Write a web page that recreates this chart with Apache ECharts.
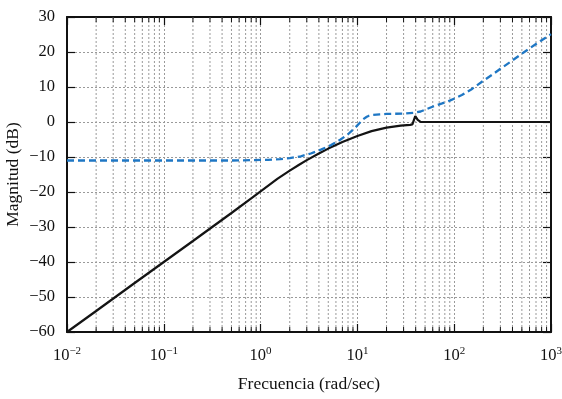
<!DOCTYPE html>
<html>
<head>
<meta charset="utf-8">
<script src="https://cdn.jsdelivr.net/npm/echarts@6/dist/echarts.min.js"></script>
<style>
  html, body { margin: 0; padding: 0; background: #fff; }
  #main { width: 562px; height: 399px; }
</style>
</head>
<body>
<div id="main"></div>
<script>
// magnitud (dB) vs frecuencia (rad/sec)
const freqSolid = [0.01, 0.02, 0.05, 0.1, 0.2, 0.5, 0.8, 1, 1.5, 2, 2.5, 3, 4, 5, 7, 10, 14, 20, 28, 35, 37, 39.6, 42, 45, 50, 70, 100, 200, 500, 1000];
const magSolid = [-60, -54, -46, -40, -34, -26.0, -21.8, -19.8, -16.2, -13.9, -12.2, -10.9, -9.0, -7.6, -5.7, -4.0, -2.6, -1.6, -1.05, -0.8, -0.7, 1.7, 0.6, 0.05, 0, 0, 0, 0, 0, 0];

const freqDash = [0.01, 0.1, 0.5, 0.8, 1.2, 1.6, 2, 2.6, 3.3, 4.2, 5.35, 6.7, 8, 9.5, 10.6, 11.5, 12.5, 13.2, 14, 17, 20, 30, 38, 45, 52, 61.5, 75, 90, 120, 150, 200, 250, 300, 400, 530, 700, 1000];
const magDash = [-11.0, -11.0, -11.0, -10.9, -10.8, -10.6, -10.3, -9.8, -9.0, -7.9, -6.6, -5.0, -3.5, -1.6, -0.2, 0.8, 1.5, 1.8, 2.0, 2.2, 2.3, 2.4, 2.6, 3.0, 3.7, 4.5, 5.3, 6.1, 7.7, 9.3, 11.8, 13.6, 15.2, 17.6, 20.0, 22.3, 25.1];

const yTicks = [-60, -50, -40, -30, -20, -10, 0, 10, 20, 30];
const decades = [0.01, 0.1, 1, 10, 100];

// minor tick positions 2..9 in each decade
const minorFreqs = [];
decades.forEach(d => {
  for (let k = 2; k <= 9; k++) minorFreqs.push([d * k, 0]);
});

const FONT = 'Liberation Serif';
const chart = echarts.init(document.getElementById('main'));

const toPairs = (xs, ys) => xs.map((x, i) => [x, ys[i]]);

function expLabel(v) {
  const e = Math.round(Math.log10(v));
  const s = e < 0 ? '\u2212' + (-e) : String(e);
  return '{b|10}{s|' + s + '}';
}

const gridStyle = { color: '#9a9a9a', width: 1, type: [2, 2] };
const frameLine = { show: true, onZero: false, lineStyle: { color: '#111', width: 2 } };
const majorTick = { show: true, inside: true, length: 8, lineStyle: { color: '#111', width: 1.2 } };

const option = {
  animation: false,
  backgroundColor: '#fff',
  grid: { left: 67, right: 11, top: 17, bottom: 67, containLabel: false, outerBoundsMode: 'none' },
  xAxis: [
    {
      type: 'log',
      logBase: 10,
      min: 0.01,
      max: 1000,
      position: 'bottom',
      name: 'Frecuencia (rad/sec)',
      nameLocation: 'middle',
      nameGap: 43,
      nameMoveOverlap: false,
      nameTextStyle: { fontFamily: FONT, fontSize: 17.5, color: '#111' },
      axisLine: frameLine,
      axisTick: majorTick,
      splitLine: { show: true, lineStyle: gridStyle },
      axisLabel: {
        margin: 14,
        formatter: expLabel,
        rich: {
          b: { fontFamily: FONT, fontSize: 16.5, color: '#111', lineHeight: 19 },
          s: { fontFamily: FONT, fontSize: 11, color: '#111', verticalAlign: 'top', lineHeight: 11 }
        }
      }
    },
    {
      type: 'log',
      logBase: 10,
      min: 0.01,
      max: 1000,
      position: 'top',
      axisLine: frameLine,
      axisTick: majorTick,
      axisLabel: { show: false },
      splitLine: { show: false }
    }
  ],
  yAxis: [
    {
      type: 'value',
      min: -60,
      max: 30,
      interval: 10,
      position: 'left',
      name: 'Magnitud (dB)',
      nameLocation: 'middle',
      nameGap: 45,
      nameMoveOverlap: false,
      nameTextStyle: { fontFamily: FONT, fontSize: 17.5, color: '#111' },
      axisLine: frameLine,
      axisTick: majorTick,
      splitLine: { show: true, lineStyle: gridStyle },
      axisLabel: {
        margin: 12,
        fontFamily: FONT,
        fontSize: 16.5,
        color: '#111',
        formatter: v => (yTicks.includes(v) ? String(v).replace('-', '\u2212') : '')
      }
    },
    {
      type: 'value',
      min: -60,
      max: 30,
      interval: 10,
      position: 'right',
      axisLine: frameLine,
      axisTick: majorTick,
      axisLabel: { show: false },
      splitLine: { show: false }
    }
  ],
  series: [
    {
      name: 'minor',
      type: 'custom',
      xAxisIndex: 0,
      yAxisIndex: 0,
      silent: true,
      z: 1,
      data: minorFreqs,
      encode: { x: 0, y: 1 },
      renderItem: (params, api) => {
        const f = api.value(0);
        const top = api.coord([f, 30]);
        const bot = api.coord([f, -60]);
        return {
          type: 'group',
          children: [
            {
              type: 'line',
              shape: { x1: top[0], y1: top[1], x2: bot[0], y2: bot[1] },
              style: { stroke: '#9a9a9a', lineWidth: 1, lineDash: [2, 2] }
            },
            {
              type: 'line',
              shape: { x1: bot[0], y1: bot[1], x2: bot[0], y2: bot[1] - 5 },
              style: { stroke: '#111', lineWidth: 1 }
            },
            {
              type: 'line',
              shape: { x1: top[0], y1: top[1], x2: top[0], y2: top[1] + 5 },
              style: { stroke: '#111', lineWidth: 1 }
            }
          ]
        };
      }
    },
    {
      name: 'solid',
      type: 'line',
      z: 3,
      symbol: 'none',
      data: toPairs(freqSolid, magSolid),
      lineStyle: { color: '#141414', width: 2.2 }
    },
    {
      name: 'dashed',
      type: 'line',
      z: 4,
      symbol: 'none',
      data: toPairs(freqDash, magDash),
      lineStyle: { color: '#1f77c4', width: 2.3, type: [7, 4] }
    }
  ]
};

chart.setOption(option);
</script>
</body>
</html>
